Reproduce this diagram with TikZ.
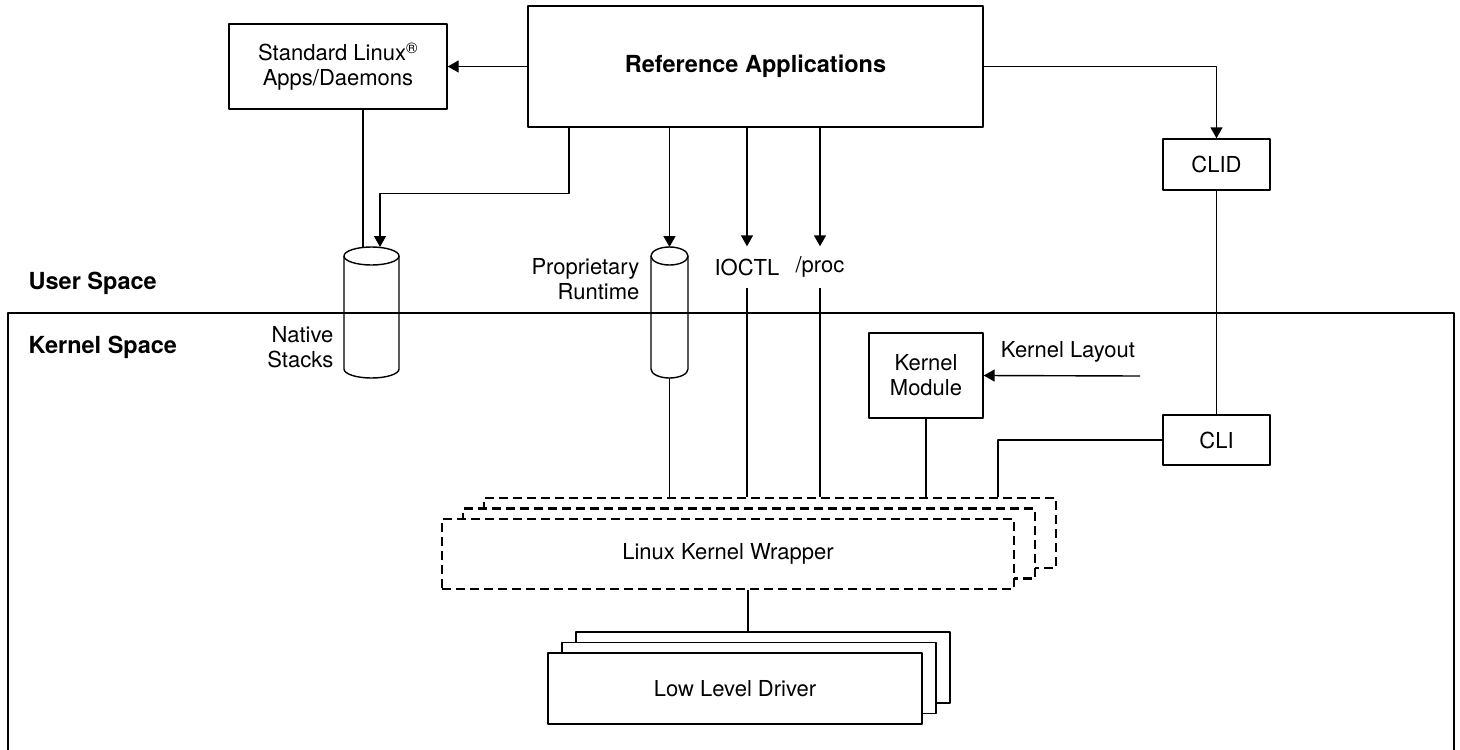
\documentclass[tikz,border=0pt]{standalone}
\usepackage{fontspec}
\setmainfont{TeX Gyre Heros}
\usetikzlibrary{arrows.meta}
\tikzset{
  blk/.style={draw, fill=white, align=center, inner sep=0pt, font=\fontsize{22}{25}\selectfont},
  ttl/.style={font=\fontsize{23.5}{27}\selectfont\bfseries, inner sep=0pt},
  lbl/.style={font=\fontsize{22}{25}\selectfont, align=center, inner sep=0pt},
  wrapbox/.style={draw, fill=white, dash pattern=on 9pt off 5pt, line width=2.7pt,
    minimum width=572pt, minimum height=70pt, inner sep=0pt, font=\fontsize{22}{25}\selectfont},
  lldbox/.style={blk, minimum width=374pt, minimum height=71pt},
  arr/.style={-{Triangle[length=11pt,width=12pt]}},
}
\begin{document}
\begin{tikzpicture}[x=1pt, y=-1pt, line width=1.4pt, line join=round]
  \useasboundingbox (0,0) rectangle (1460,750);
  % kernel frame
  \draw (8,750) -- (8,313) -- (1454,313) -- (1454,750);
  \node[ttl, anchor=west] (user) at (28,283) {User Space};
  \node[ttl, anchor=west] (kern) at (28,347) {Kernel Space};

  % boxes
  \node[blk, minimum width=455pt, minimum height=121pt, font=\fontsize{23.5}{27}\selectfont\bfseries] (ref) at (755.5,66.5) {Reference Applications};
  \node[blk, minimum width=218pt, minimum height=85pt] (std) at (338,66.5) {Standard Linux\textsuperscript{\textregistered}\\Apps/Daemons};
  \node[blk, minimum width=107pt, minimum height=51pt] (clid) at (1216.5,164.5) {CLID};
  \node[blk, minimum width=107pt, minimum height=50pt] (cli) at (1216.5,440) {CLI};
  \node[blk, minimum width=114pt, minimum height=85pt] (km) at (926,375.5) {Kernel\\Module};

  % cylinders
  \foreach \cx/\rx/\nm in {371.5/27.5/nst, 669.5/18.5/prt}{
    \draw (\cx-\rx,256) -- (\cx-\rx,369) arc[start angle=180, end angle=360, x radius=\rx*1pt, y radius=9pt] -- (\cx+\rx,256);
    \draw (\cx,256) ellipse[x radius=\rx*1pt, y radius=9pt];
    \coordinate (\nm Top) at (\cx,247);
    \coordinate (\nm Bot) at (\cx,378);
  }
  \coordinate (nstL) at (363,248);
  \coordinate (nstIn) at (380,247);
  \node[lbl, align=right, anchor=east] (nstlbl) at (334,347.5) {Native\\Stacks};
  \node[lbl, align=right, anchor=east] (prtlbl) at (640,279.5) {Proprietary\\Runtime};
  \node[lbl, minimum height=40pt] (ioctl) at (747,267) {IOCTL};
  \node[lbl, minimum height=40pt] (procfs) at (820,267) {/proc};
  \node[lbl] (klayout) at (1068,352) {Kernel Layout};
  \coordinate (klIn) at (1140,376);
  \coordinate (cliX) at (998,440);

  % wrapper and drivers
  \foreach \i/\nm in {2/wrapA, 1/wrapB}
    \node[wrapbox] (\nm) at (728+21*\i, 554-10.5*\i) {};
  \node[wrapbox] (wrapC) at (728,554) {Linux Kernel Wrapper};
  \foreach \i/\nm in {2/lldA, 1/lldB}
    \node[lldbox] (\nm) at (735+14*\i, 688.5-10.5*\i) {};
  \node[lldbox] (lldC) at (735,688.5) {Low Level Driver};

  % connectors
  \draw[arr] (ref.west) -- (std.east);
  \draw[arr] (ref.east) -| (clid.north);
  \draw (clid.south) -- (cli.north);
  \draw (std.south -| nstL) -- (nstL);
  \draw[arr] ([xshift=-186.5pt]ref.south) -- ++(0,66) -| (nstIn);
  \draw[arr] (ref.south -| prtTop) -- (prtTop);
  \draw[arr] (ref.south -| ioctl.north) -- (ioctl.north);
  \draw[arr] (ref.south -| procfs.north) -- (procfs.north);
  \draw (prtBot) -- (prtBot |- wrapA.north);
  \draw (ioctl.south) -- (ioctl.south |- wrapA.north);
  \draw (procfs.south) -- (procfs.south |- wrapA.north);
  \draw (km.south) -- (km.south |- wrapA.north);
  \draw (cli.west) -| (cliX |- wrapA.north);
  \draw[arr] (klIn) -- (km.east);
  \draw ([xshift=20pt]wrapC.south) -- ([xshift=20pt]wrapC.south |- lldA.north);
\end{tikzpicture}
\end{document}
